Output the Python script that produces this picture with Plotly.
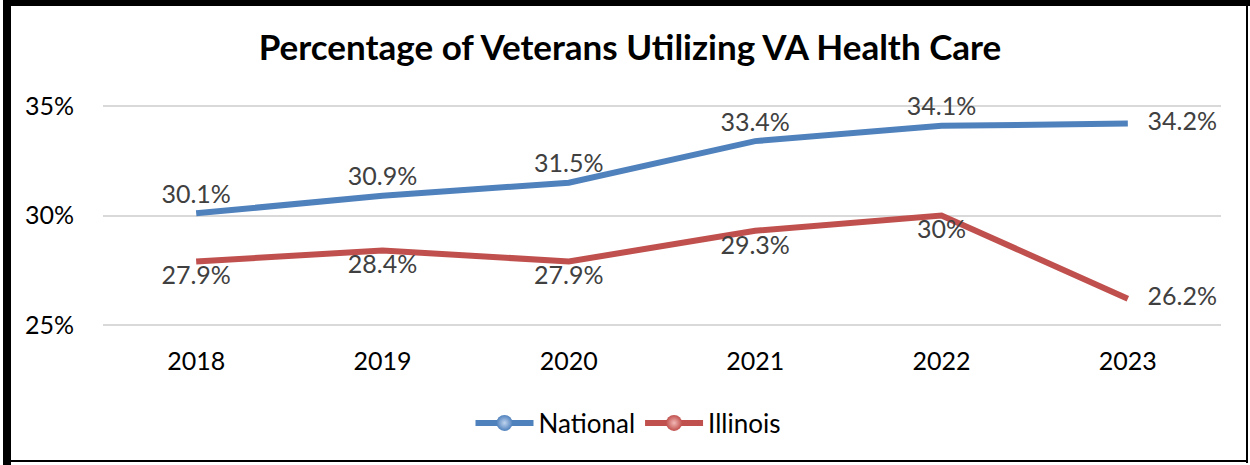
import plotly.graph_objects as go

years = ["2018", "2019", "2020", "2021", "2022", "2023"]
national = [30.1, 30.9, 31.5, 33.4, 34.1, 34.2]
illinois = [27.9, 28.4, 27.9, 29.3, 30.0, 26.2]
national_labels = ["30.1%", "30.9%", "31.5%", "33.4%", "34.1%", "34.2%"]
illinois_labels = ["27.9%", "28.4%", "27.9%", "29.3%", "30%", "26.2%"]
y_ticks = [25, 30, 35]
y_tick_labels = ["25%", "30%", "35%"]

BLUE = "#4F81BD"
RED = "#C0504D"
FONT = "Lato"

# plot area in pixels (for placing the frame)
W, H = 1250, 465
L, R, T, B = 103, 29, 105, 139
PW, PH = W - L - R, H - T - B


def px_x(x):
    return (x - L) / PW


def px_y(y):
    return (H - B - y) / PH


fig = go.Figure()

# invisible markers push the data labels away from the line
for name, vals, labels, col, pos in (
    ("National", national, national_labels, BLUE, "top center"),
    ("Illinois", illinois, illinois_labels, RED, "bottom center"),
):
    fig.add_trace(go.Scatter(
        x=years, y=vals, mode="lines+markers+text", name=name,
        line=dict(color=col, width=6),
        marker=dict(size=[5] * 5 + [30], color="rgba(0,0,0,0)",
                    line=dict(width=0, color="rgba(0,0,0,0)")),
        text=labels,
        textposition=[pos] * 5 + ["middle right"],
        textfont=dict(family=FONT, size=25, color="#404040"),
        cliponaxis=False,
        showlegend=False,
    ))

# legend entries with ball markers
for name, col, hi in (("National", BLUE, "#BFD3EE"), ("Illinois", RED, "#F2B8B5")):
    fig.add_trace(go.Scatter(
        x=[None], y=[None], mode="lines+markers", name=name,
        line=dict(color=col, width=6),
        marker=dict(size=19, color=col, line=dict(width=0),
                    gradient=dict(type="radial", color=hi)),
    ))

frame = [
    dict(x0=px_x(3), x1=px_x(11), y0=px_y(0), y1=px_y(H)),
    dict(x0=px_x(3), x1=px_x(W), y0=px_y(0), y1=px_y(6)),
    dict(x0=px_x(1246), x1=px_x(1248), y0=px_y(0), y1=px_y(463)),
    dict(x0=px_x(3), x1=px_x(1248), y0=px_y(460), y1=px_y(462)),
]
shapes = []
for s in frame:
    s.update(type="rect", xref="paper", yref="paper", fillcolor="black",
             line=dict(width=0), layer="above")
    shapes.append(s)

fig.update_layout(
    width=W, height=H,
    margin=dict(l=L, r=R, t=T, b=B),
    paper_bgcolor="white", plot_bgcolor="white",
    title=dict(text="<b>Percentage of Veterans Utilizing VA Health Care</b>",
               x=px_x(630), xref="paper", xanchor="center",
               y=1 - 48 / H, yanchor="middle",
               font=dict(family=FONT, size=35, color="black")),
    font=dict(family=FONT, size=25, color="black"),
    xaxis=dict(showgrid=False, showline=False, zeroline=False, ticks="",
               tickfont=dict(size=25, color="black"), range=[-0.5, 5.5],
               ticklabelstandoff=18),
    yaxis=dict(range=[24.95, 35.05], tickvals=y_ticks, ticktext=y_tick_labels,
               showgrid=True, gridcolor="#D9D9D9", gridwidth=2, zeroline=False,
               showline=False, tickfont=dict(size=25, color="black"),
               ticklabelstandoff=28),
    legend=dict(orientation="h", x=px_x(628), xanchor="center", y=px_y(423),
                yanchor="middle", font=dict(size=26, color="black"), itemwidth=58),
    shapes=shapes,
)

fig.write_html("out.html", config={"displayModeBar": False},
               post_script="document.body.style.margin='0';")
